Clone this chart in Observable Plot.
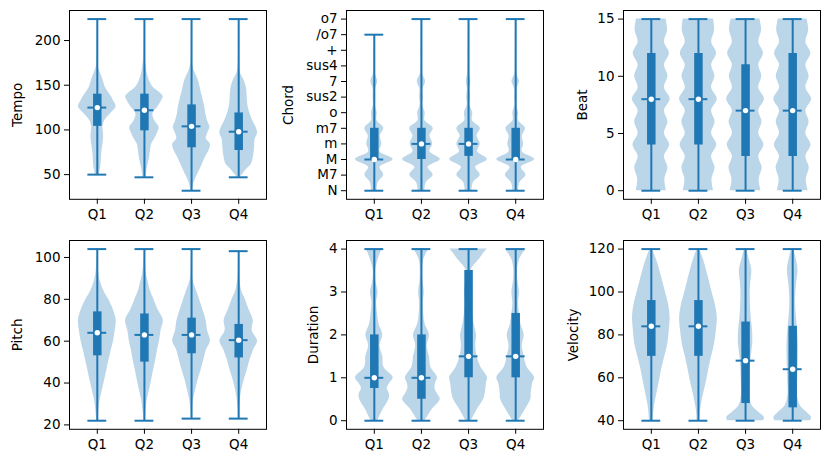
<!DOCTYPE html>
<html><head><meta charset="utf-8">
<script src="https://cdn.jsdelivr.net/npm/d3@7"></script>
<script src="https://cdn.jsdelivr.net/npm/@observablehq/plot@0.6"></script>
<style>
html,body{margin:0;padding:0;background:#fff;}
#fig{position:relative;width:831px;height:463px;overflow:hidden;background:#fff;}
#fig svg{position:absolute;}
</style></head><body><div id="fig"></div>
<script>
const quarters = ["Q1","Q2","Q3","Q4"];

// ---- Tempo ----
const tempoTicks = [50,100,150,200];
const tempoMin = [50,47,32,47];
const tempoMax = [224,224,224,224];
const tempoLo  = [104,99,80,77];
const tempoMed = [125,122,104,98];
const tempoHi  = [140,140,128,119];
const tempoLevels = [32,40,47,50,56,62,70,77,84,90,96,103,110,118,126,133,137,141,148,156,163,170,178,190,224];
const tempoDensQ1 = [null,null,null,0.1,0.16,0.2,0.22,0.25,0.3,0.33,0.33,0.3,0.39,0.7,1.0,0.85,0.75,0.62,0.42,0.3,0.18,0.06,0.03,0.015,0.005];
const tempoDensQ2 = [null,null,0.07,0.1,0.14,0.2,0.28,0.32,0.38,0.55,0.68,0.78,0.55,0.45,0.72,0.92,1.0,0.85,0.45,0.25,0.15,0.1,0.05,0.02,0.005];
const tempoDensQ3 = [0.03,0.12,0.25,0.32,0.45,0.58,0.75,0.93,1.0,0.78,0.85,0.97,0.85,0.75,0.7,0.62,0.58,0.52,0.45,0.35,0.2,0.08,0.03,0.015,0.005];
const tempoDensQ4 = [null,null,0.08,0.2,0.42,0.68,0.78,0.83,0.85,0.88,1.0,0.92,0.75,0.6,0.5,0.46,0.45,0.44,0.4,0.27,0.1,0.04,0.02,0.01,0.005];

// ---- Chord ----
const chordLabels = ["N","M7","M","m","m7","o","sus2","7","sus4","+","/o7","o7"];
const chordTicks = [0,1,2,3,4,5,6,7,8,9,10,11];
const chordMin = [0,0,0,0];
const chordMax = [10,11,11,11];
const chordLo  = [2,2,2.2,2];
const chordMed = [2,3,3,2];
const chordHi  = [4,4,4,4];
const chordLevels = [0,0.5,1,1.5,2,2.5,3,3.5,4,4.5,5,5.5,6,6.5,7,7.5,8,8.5,9,9.5,10,10.5,11];
const chordDensQ1 = [0.15,0.2,0.5,0.3,1.0,0.3,0.4,0.32,0.5,0.14,0.15,0.05,0.07,0.06,0.18,0.05,0.04,0.03,0.04,0.02,0.02,null,null];
const chordDensQ2 = [0.18,0.25,0.62,0.35,1.0,0.45,0.6,0.45,0.62,0.18,0.2,0.07,0.1,0.08,0.22,0.06,0.04,0.03,0.04,0.02,0.03,0.02,0.02];
const chordDensQ3 = [0.18,0.25,0.62,0.38,1.0,0.48,0.62,0.45,0.62,0.2,0.22,0.07,0.1,0.06,0.12,0.05,0.04,0.03,0.04,0.02,0.03,0.02,0.02];
const chordDensQ4 = [0.15,0.22,0.55,0.3,1.0,0.35,0.42,0.35,0.52,0.14,0.15,0.05,0.07,0.06,0.2,0.05,0.04,0.03,0.03,0.02,0.03,0.02,0.02];

// ---- Beat ----
const beatTicks = [0,5,10,15];
const beatMin = [0,0,0,0];
const beatMax = [15,15,15,15];
const beatLo  = [4,4,3,3];
const beatMed = [8,8,7,7];
const beatHi  = [12,12,11,12];
const beatLevels = [0,1,2,3,4,5,6,7,8,9,10,11,12,13,14,15];
const beatDensQ1 = [0.8,0.72,0.88,0.7,0.97,0.7,0.88,0.7,1.0,0.7,0.88,0.7,0.96,0.7,0.86,0.78];
const beatDensQ2 = [0.8,0.72,0.88,0.7,0.97,0.7,0.88,0.7,1.0,0.7,0.87,0.7,0.96,0.7,0.86,0.8];
const beatDensQ3 = [0.82,0.72,0.88,0.7,0.97,0.7,0.87,0.7,1.0,0.7,0.86,0.7,0.95,0.7,0.85,0.76];
const beatDensQ4 = [0.82,0.72,0.88,0.7,0.97,0.7,0.87,0.7,1.0,0.7,0.87,0.7,0.96,0.7,0.85,0.76];

// ---- Pitch ----
const pitchTicks = [20,40,60,80,100];
const pitchMin = [22,22,23,23];
const pitchMax = [104,104,104,103];
const pitchLo  = [53,50,54,52];
const pitchMed = [64,63,63,60.5];
const pitchHi  = [74,73,71,68];
const pitchLevels = [22,23,27,32,36,41,46,51,56,60,65,70,75,80,84,89,92,96,100,103,104];
const pitchDensQ1 = [0.03,0.04,0.08,0.15,0.25,0.38,0.5,0.62,0.75,0.86,0.95,1.0,0.85,0.6,0.35,0.15,0.08,0.04,0.02,0.01,0.01];
const pitchDensQ2 = [0.03,0.04,0.08,0.15,0.25,0.37,0.48,0.6,0.7,0.8,0.88,1.0,0.72,0.5,0.32,0.18,0.1,0.05,0.02,0.01,0.01];
const pitchDensQ3 = [null,0.02,0.04,0.1,0.2,0.33,0.5,0.65,0.8,1.0,0.85,0.77,0.6,0.42,0.27,0.08,0.04,0.02,0.01,0.01,0.01];
const pitchDensQ4 = [null,0.02,0.03,0.08,0.15,0.28,0.45,0.6,0.8,1.0,0.72,0.77,0.55,0.35,0.16,0.06,0.03,0.02,0.01,0.01,null];

// ---- Duration ----
const durTicks = [0,1,2,3,4];
const durMin = [0,0,0,0];
const durMax = [4,4,4,4];
const durLo  = [0.75,0.5,1,1];
const durMed = [1,1,1.5,1.5];
const durHi  = [2,2,3.5,2.5];
const durLevels = [0,0.25,0.5,0.625,0.75,0.875,1,1.25,1.5,1.75,2,2.25,2.5,2.75,3,3.25,3.5,3.75,4];
const durDensQ1 = [0.18,0.45,0.78,0.8,0.68,0.82,1.0,0.5,0.45,0.3,0.45,0.25,0.17,0.12,0.2,0.08,0.06,0.2,0.42];
const durDensQ2 = [0.2,0.55,1.0,0.85,0.72,0.75,0.85,0.5,0.42,0.3,0.42,0.2,0.12,0.1,0.15,0.08,0.06,0.12,0.4];
const durDensQ3 = [0.15,0.45,0.8,0.88,0.92,0.95,1.0,0.65,0.45,0.38,0.42,0.3,0.22,0.18,0.22,0.14,0.12,0.55,0.98];
const durDensQ4 = [0.15,0.5,0.8,0.82,0.85,0.9,1.0,0.6,0.45,0.35,0.45,0.28,0.2,0.15,0.2,0.12,0.1,0.2,0.55];

// ---- Velocity ----
const velTicks = [40,60,80,100,120];
const velMin = [40,40,40,40];
const velMax = [120,120,120,120];
const velLo  = [70,70,48,46];
const velMed = [84,84,68,64];
const velHi  = [96,96,86,84];
const velLevels = [40,41.5,44,47,52,58,64,70,76,82,88,94,100,105,110,115,120];
const velDensQ1 = [0.1,0.11,0.13,0.17,0.28,0.42,0.55,0.72,0.88,0.95,1.0,0.92,0.75,0.6,0.45,0.28,0.06];
const velDensQ2 = [0.07,0.08,0.1,0.15,0.26,0.42,0.55,0.7,0.86,0.95,1.0,0.9,0.72,0.58,0.43,0.27,0.06];
const velDensQ3 = [0.95,1.0,0.7,0.35,0.22,0.23,0.25,0.3,0.38,0.37,0.3,0.26,0.25,0.28,0.33,0.2,0.05];
const velDensQ4 = [0.95,1.0,0.75,0.4,0.25,0.26,0.28,0.3,0.3,0.26,0.2,0.15,0.17,0.22,0.28,0.2,0.05];

const C0 = "#1f77b4";
const FW = 197, FH = 188.8;
const ML = 68, MR = 8, MT = 8, MB = 32;
const colLeft = [68.5, 345.5, 622.5];
const rowTop = [10, 239.5];

const panels = [
  {label:"Tempo", ticks:tempoTicks, fmt:null, levels:tempoLevels, dens:[tempoDensQ1,tempoDensQ2,tempoDensQ3,tempoDensQ4], mins:tempoMin, maxs:tempoMax, los:tempoLo, meds:tempoMed, his:tempoHi, col:0, row:0, labelDist:51.5},
  {label:"Chord", ticks:chordTicks, fmt:d => chordLabels[d], levels:chordLevels, dens:[chordDensQ1,chordDensQ2,chordDensQ3,chordDensQ4], mins:chordMin, maxs:chordMax, los:chordLo, meds:chordMed, his:chordHi, col:1, row:0, labelDist:57.5},
  {label:"Beat", ticks:beatTicks, fmt:null, levels:beatLevels, dens:[beatDensQ1,beatDensQ2,beatDensQ3,beatDensQ4], mins:beatMin, maxs:beatMax, los:beatLo, meds:beatMed, his:beatHi, col:2, row:0, labelDist:40.5},
  {label:"Pitch", ticks:pitchTicks, fmt:null, levels:pitchLevels, dens:[pitchDensQ1,pitchDensQ2,pitchDensQ3,pitchDensQ4], mins:pitchMin, maxs:pitchMax, los:pitchLo, meds:pitchMed, his:pitchHi, col:0, row:1, labelDist:51.5},
  {label:"Duration", ticks:durTicks, fmt:null, levels:durLevels, dens:[durDensQ1,durDensQ2,durDensQ3,durDensQ4], mins:durMin, maxs:durMax, los:durLo, meds:durMed, his:durHi, col:1, row:1, labelDist:32.5},
  {label:"Velocity", ticks:velTicks, fmt:null, levels:velLevels, dens:[velDensQ1,velDensQ2,velDensQ3,velDensQ4], mins:velMin, maxs:velMax, los:velLo, meds:velMed, his:velHi, col:2, row:1, labelDist:49.5}
];

const fig = document.getElementById("fig");
const half = 0.4, cap = 0.2;

for (const p of panels) {
  const lo = d3.min(p.mins), hi = d3.max(p.maxs), pad = (hi - lo) * 0.05;
  const body = [];
  p.dens.forEach((arr, i) => arr.forEach((w, j) => {
    if (w != null) body.push({q: i + 1, y: p.levels[j], w});
  }));
  const stats = quarters.map((q, i) => ({q: i + 1, min: p.mins[i], max: p.maxs[i], lo: p.los[i], med: p.meds[i], hi: p.his[i]}));
  const yOpts = {domain: [lo - pad, hi + pad], ticks: p.ticks, label: null, tickSize: 5, tickPadding: 4,
                 tickFormat: p.fmt ? p.fmt : d => String(d)};
  const svg = Plot.plot({
    width: ML + FW + MR,
    height: MT + FH + MB,
    marginLeft: ML, marginRight: MR, marginTop: MT, marginBottom: MB,
    style: {fontFamily: "DejaVu Sans", fontSize: "13.5px", background: "transparent", color: "#000", overflow: "visible"},
    x: {type: "linear", domain: [0.41, 4.59], ticks: [1, 2, 3, 4], tickFormat: d => quarters[d - 1], label: null, tickSize: 5, tickPadding: 5},
    y: yOpts,
    marks: [
      Plot.areaX(body, {y: "y", x1: d => d.q - half * d.w, x2: d => d.q + half * d.w, z: "q", fill: C0, fillOpacity: 0.3, curve: "catmull-rom"}),
      Plot.ruleX(stats, {x: "q", y1: "min", y2: "max", stroke: C0, strokeWidth: 2}),
      Plot.ruleY(stats, {y: "min", x1: d => d.q - cap, x2: d => d.q + cap, stroke: C0, strokeWidth: 2}),
      Plot.ruleY(stats, {y: "max", x1: d => d.q - cap, x2: d => d.q + cap, stroke: C0, strokeWidth: 2}),
      Plot.ruleY(stats, {y: "med", x1: d => d.q - cap, x2: d => d.q + cap, stroke: C0, strokeWidth: 2}),
      Plot.ruleX(stats, {x: "q", y1: "lo", y2: "hi", stroke: C0, strokeWidth: 8.5}),
      Plot.dot(stats, {x: "q", y: "med", r: 2.7, fill: "white", stroke: "none"}),
      Plot.frame({stroke: "#000", strokeWidth: 1}),
      Plot.text([p.label], {text: d => d, frameAnchor: "left", rotate: -90, dx: -p.labelDist, lineAnchor: "middle", textAnchor: "middle", fill: "#000"})
    ]
  });
  svg.style.left = (colLeft[p.col] - ML) + "px";
  svg.style.top = (rowTop[p.row] - MT) + "px";
  fig.appendChild(svg);
}
</script></body></html>
